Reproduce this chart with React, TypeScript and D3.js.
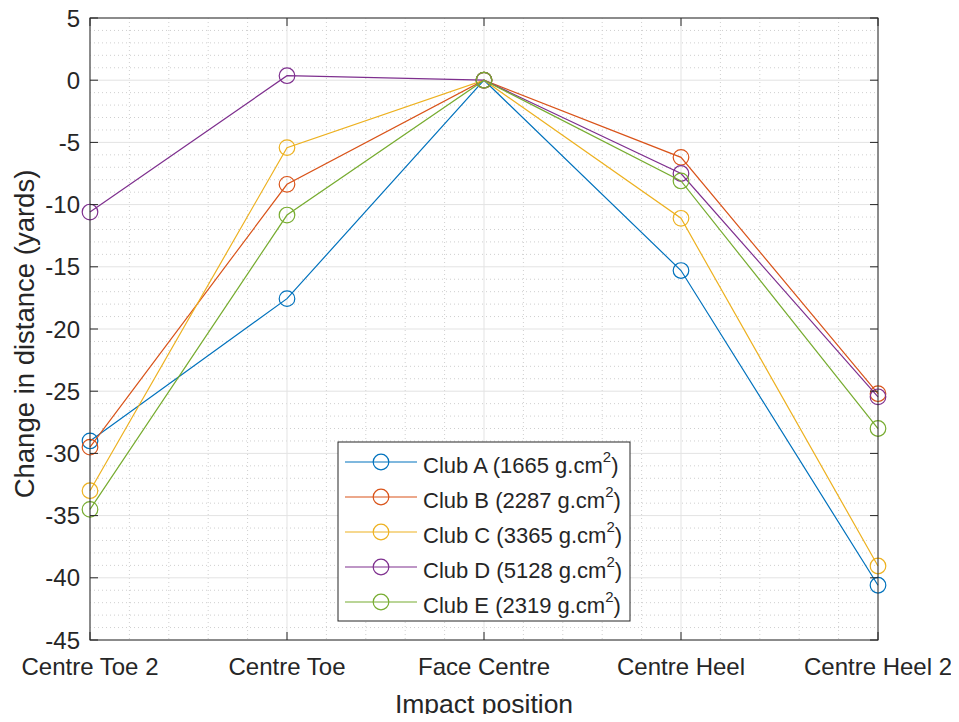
import React from "react";
import * as d3 from "d3";

const categories = ["Centre Toe 2", "Centre Toe", "Face Centre", "Centre Heel", "Centre Heel 2"];
const yTicks = [5, 0, -5, -10, -15, -20, -25, -30, -35, -40, -45];

const clubA = [-29.0, -17.56, 0, -15.3, -40.6];
const clubB = [-29.5, -8.37, 0, -6.2, -25.2];
const clubC = [-33.0, -5.42, 0, -11.1, -39.05];
const clubD = [-10.6, 0.36, 0, -7.5, -25.45];
const clubE = [-34.5, -10.84, 0, -8.1, -28.0];

const seriesNames = ["Club A (1665 g.cm", "Club B (2287 g.cm", "Club C (3365 g.cm", "Club D (5128 g.cm", "Club E (2319 g.cm"];
const seriesValues = [clubA, clubB, clubC, clubD, clubE];
const colors = ["#0072BD", "#D95319", "#EDB120", "#7E2F8E", "#77AC30"];

export default function App() {
  const W = 959, H = 722;
  const left = 90, right = 878, top = 18, bottom = 640;
  const x = d3.scaleLinear().domain([0, categories.length - 1]).range([left, right]);
  const y = d3.scaleLinear().domain([-45, 5]).range([bottom, top]);
  const line = d3.line<number>().x((_, i) => x(i)).y((v) => y(v));
  const font = "'Liberation Sans', Arial, Helvetica, sans-serif";
  const axisColor = "#262626";
  const tickLen = 8;

  const minorX: number[] = [];
  for (let i = 0; i < categories.length - 1; i++) for (let k = 1; k < 5; k++) minorX.push(i + k / 5);
  const minorY: number[] = [];
  for (let v = -45; v <= 5; v++) if (v % 5 !== 0) minorY.push(v);

  const legX = 338, legY = 442, legW = 292, legH = 179;
  const rowH = 35;

  return (
    <div style={{ margin: -8 }}>
      <svg width={W} height={H} style={{ display: "block", background: "#fff" }} fontFamily={font}>
        <rect x={0} y={0} width={W} height={H} fill="#fff" />
        {minorX.map((v, i) => (
          <line key={"mx" + i} x1={x(v)} x2={x(v)} y1={top} y2={bottom} stroke="#cfcfcf" strokeWidth={1} strokeDasharray="1,3" />
        ))}
        {minorY.map((v, i) => (
          <line key={"my" + i} x1={left} x2={right} y1={y(v)} y2={y(v)} stroke="#cfcfcf" strokeWidth={1} strokeDasharray="1,3" />
        ))}
        {categories.map((_, i) => (
          <line key={"gx" + i} x1={x(i)} x2={x(i)} y1={top} y2={bottom} stroke="#e3e3e3" strokeWidth={1} />
        ))}
        {yTicks.map((v) => (
          <line key={"gy" + v} x1={left} x2={right} y1={y(v)} y2={y(v)} stroke="#e3e3e3" strokeWidth={1} />
        ))}
        {seriesValues.map((vals, s) => (
          <g key={"s" + s}>
            <path d={line(vals) || ""} fill="none" stroke={colors[s]} strokeWidth={1.2} />
            {vals.map((v, i) => (
              <circle key={i} cx={x(i)} cy={y(v)} r={7.8} fill="none" stroke={colors[s]} strokeWidth={1.2} />
            ))}
          </g>
        ))}
        <rect x={left} y={top} width={right - left} height={bottom - top} fill="none" stroke={axisColor} strokeWidth={1} />
        {categories.map((_, i) => (
          <g key={"tx" + i}>
            <line x1={x(i)} x2={x(i)} y1={bottom} y2={bottom - tickLen} stroke={axisColor} />
            <line x1={x(i)} x2={x(i)} y1={top} y2={top + tickLen} stroke={axisColor} />
          </g>
        ))}
        {yTicks.map((v) => (
          <g key={"ty" + v}>
            <line x1={left} x2={left + tickLen} y1={y(v)} y2={y(v)} stroke={axisColor} />
            <line x1={right} x2={right - tickLen} y1={y(v)} y2={y(v)} stroke={axisColor} />
          </g>
        ))}
        {categories.map((c, i) => (
          <text key={"lx" + i} x={x(i)} y={675} textAnchor="middle" fontSize={24} fill={axisColor}>{c}</text>
        ))}
        {yTicks.map((v) => (
          <text key={"ly" + v} x={80} y={y(v) + 8.5} textAnchor="end" fontSize={24} fill={axisColor}>{v}</text>
        ))}
        <text x={(left + right) / 2} y={713} textAnchor="middle" fontSize={26.5} fill={axisColor}>Impact position</text>
        <text transform={`translate(34,${(top + bottom) / 2 + 5}) rotate(-90)`} textAnchor="middle" fontSize={27.5} fill={axisColor}>Change in distance (yards)</text>
        <rect x={legX} y={legY} width={legW} height={legH} fill="#fff" stroke={axisColor} strokeWidth={1} />
        {seriesNames.map((n, s) => {
          const cy = legY + 20 + s * rowH;
          return (
            <g key={"lg" + s}>
              <line x1={345} x2={417} y1={cy} y2={cy} stroke={colors[s]} strokeWidth={1.2} />
              <circle cx={381} cy={cy} r={7.8} fill="none" stroke={colors[s]} strokeWidth={1.2} />
              <text x={423} y={cy + 11} fontSize={22} fill={axisColor}>
                {n}
                <tspan fontSize={15} dy={-11}>2</tspan>
                <tspan dy={11}>)</tspan>
              </text>
            </g>
          );
        })}
      </svg>
    </div>
  );
}
